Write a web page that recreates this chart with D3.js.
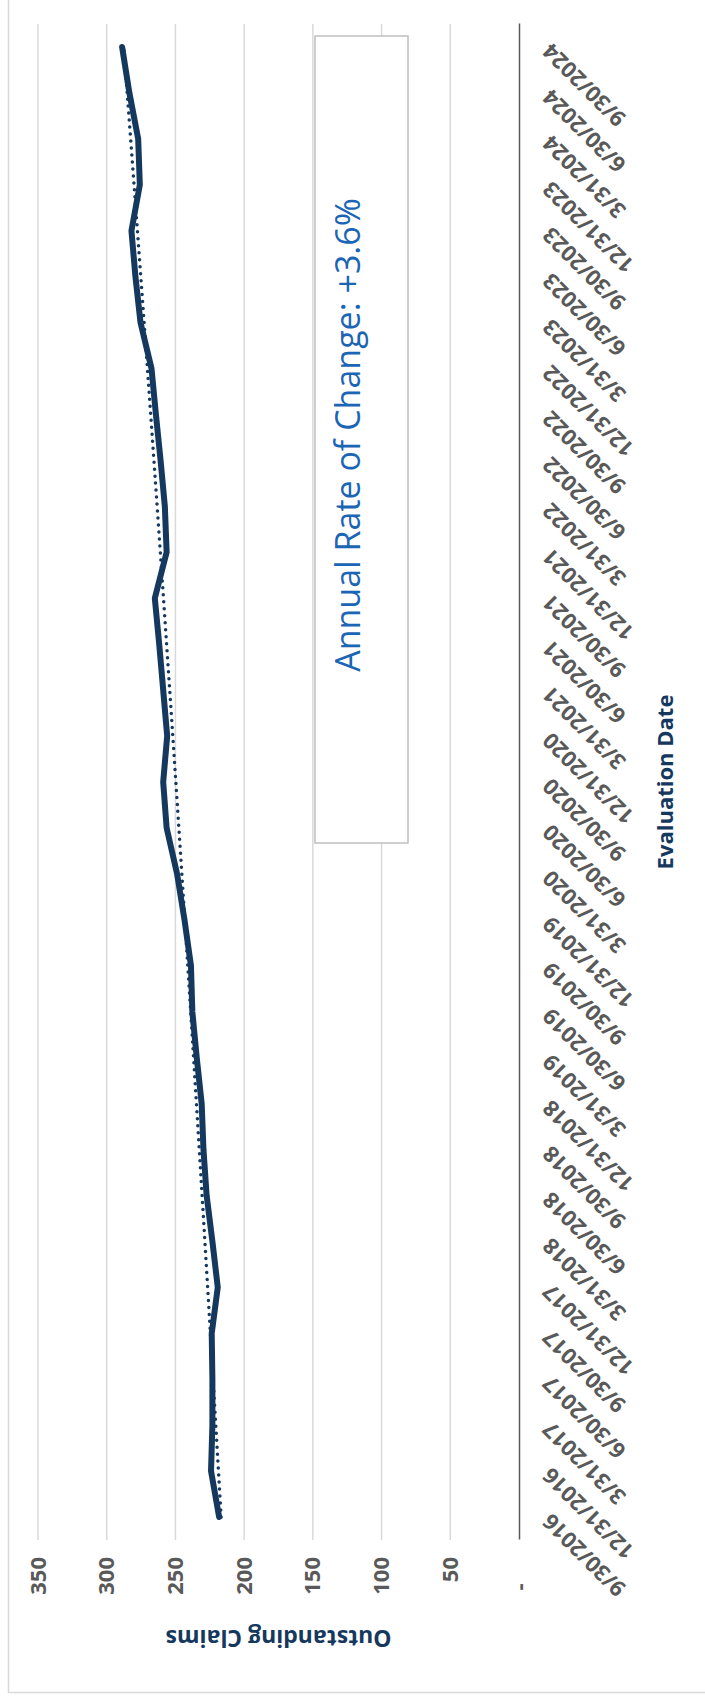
<!DOCTYPE html>
<html>
<head>
<meta charset="utf-8">
<script src="https://cdn.jsdelivr.net/npm/d3@7"></script>
<style>
 body { margin: 0; background: #fff; }
 svg text { font-family: 'Open Sans', 'Noto Sans', sans-serif; }
</style>
</head>
<body>
<script>
 // quarterly evaluation dates
 var dates = ['9/30/2016','12/31/2016','3/31/2017','6/30/2017','9/30/2017','12/31/2017',
	      '3/31/2018','6/30/2018','9/30/2018','12/31/2018','3/31/2019','6/30/2019',
	      '9/30/2019','12/31/2019','3/31/2020','6/30/2020','9/30/2020','12/31/2020',
	      '3/31/2021','6/30/2021','9/30/2021','12/31/2021','3/31/2022','6/30/2022',
	      '9/30/2022','12/31/2022','3/31/2023','6/30/2023','9/30/2023','12/31/2023',
	      '3/31/2024','6/30/2024','9/30/2024'];

 // outstanding claims
 var claims = [218.2, 224.1, 223.1, 223.1, 223.6, 219.2, 223.1, 227.3, 229.6, 230.9, 234.5,
	       237.7, 238.7, 243.4, 248.8, 256.4, 258.9, 256.0, 258.9, 261.8, 265.0, 256.4,
	       257.7, 260.8, 264.2, 267.4, 275.4, 279.1, 282.0, 275.9, 277.1, 283.5, 288.8];

 var value_ticks = [0, 50, 100, 150, 200, 250, 300, 350];
 var value_labels = ['-', '50', '100', '150', '200', '250', '300', '350'];
 var note_text = 'Annual Rate of Change: +3.6%';

 var navy = '#15385f';
 var gray = '#595959';
 var grid = '#d9d9d9';

 // the chart is laid out the usual way (dates across), then turned a quarter turn
 var W = 1698, H = 705;
 var svg = d3.select('body').append('svg')
	     .attr('width', H)
	     .attr('height', W);

 svg.append('rect')
    .attr('x', 8.5).attr('y', -3)
    .attr('width', 710).attr('height', 1695.5)
    .attr('fill', 'none')
    .attr('stroke', grid)
    .attr('stroke-width', 1.5);

 var chart = svg.append('g')
		.attr('transform', 'translate(0,' + W + ') rotate(-90)');

 // plot area (in the unrotated frame)
 var plot_l = 158, plot_r = 1674, plot_t = 38, plot_b = 519;

 var x = d3.scaleBand().domain(dates).range([plot_l, plot_r]);
 var y = d3.scaleLinear().domain([0, 350]).range([plot_b, plot_t]);
 var cx = function(d) { return x(d) + x.bandwidth() / 2; };

 // gridlines
 chart.append('g')
      .selectAll('line')
      .data(value_ticks.slice(1))
      .enter()
      .append('line')
      .attr('x1', plot_l).attr('x2', plot_r)
      .attr('y1', function(d) { return y(d); })
      .attr('y2', function(d) { return y(d); })
      .attr('stroke', grid)
      .attr('stroke-width', 1.5);

 // value axis labels
 var yaxis = chart.append('g')
		  .attr('transform', 'translate(' + plot_l + ',0)')
		  .call(d3.axisLeft(y)
			  .tickValues(value_ticks)
			  .tickSize(0)
			  .tickPadding(17)
			  .tickFormat(function(d, i) { return value_labels[i]; }));
 yaxis.select('.domain').remove();
 yaxis.selectAll('text')
      .attr('font-size', '22px')
      .attr('font-weight', 700)
      .attr('fill', gray)
      .attr('dx', function(d) { return d === 0 ? '-1.2em' : 0; });

 // date axis
 var xaxis = chart.append('g')
		  .attr('transform', 'translate(0,' + plot_b + ')')
		  .call(d3.axisBottom(x).tickSize(0));
 xaxis.select('.domain')
      .attr('stroke', gray)
      .attr('stroke-width', 1.5);
 xaxis.selectAll('text')
      .attr('x', 0).attr('y', 0)
      .attr('dy', '0.71em')
      .attr('transform', 'translate(-6,22) rotate(-45)')
      .attr('text-anchor', 'end')
      .attr('font-size', '22px')
      .attr('font-weight', 700)
      .attr('fill', gray);

 // axis titles
 chart.append('text')
      .attr('transform', 'translate(68,' + (plot_t + plot_b) / 2 + ') rotate(-90)')
      .attr('text-anchor', 'middle')
      .attr('font-size', '23px')
      .attr('font-weight', 700)
      .attr('fill', navy)
      .text('Outstanding Claims');

 chart.append('text')
      .attr('x', (plot_l + plot_r) / 2)
      .attr('y', 673)
      .attr('text-anchor', 'middle')
      .attr('font-size', '22px')
      .attr('font-weight', 700)
      .attr('fill', navy)
      .text('Evaluation Date');

 // exponential trendline, least squares on log of the claims (like excel)
 var n = claims.length, sx = 0, sy = 0, sxx = 0, sxy = 0;
 claims.forEach(function(v, i) {
     var ly = Math.log(v);
     sx += i; sy += ly; sxx += i * i; sxy += i * ly;
 });
 var b = (n * sxy - sx * sy) / (n * sxx - sx * sx);
 var a = (sy - b * sx) / n;
 var fitted = claims.map(function(v, i) { return Math.exp(a + b * i); });

 var line = d3.line()
	      .x(function(d, i) { return cx(dates[i]); })
	      .y(function(d) { return y(d); });

 chart.append('path')
      .datum(claims)
      .attr('d', line)
      .attr('fill', 'none')
      .attr('stroke', navy)
      .attr('stroke-width', 6)
      .attr('stroke-linejoin', 'round')
      .attr('stroke-linecap', 'round');

 chart.append('path')
      .datum(fitted)
      .attr('d', line.curve(d3.curveMonotoneX))
      .attr('fill', 'none')
      .attr('stroke', navy)
      .attr('stroke-width', 3.5)
      .attr('stroke-linecap', 'round')
      .attr('stroke-dasharray', '0 7');

 // text box with the rate
 chart.append('rect')
      .attr('x', 855).attr('y', 315)
      .attr('width', 807).attr('height', 93)
      .attr('fill', '#fff')
      .attr('stroke', '#bfbfbf')
      .attr('stroke-width', 1.5);

 chart.append('text')
      .attr('x', 1263)
      .attr('y', 360)
      .attr('text-anchor', 'middle')
      .attr('font-size', '34px')
      .attr('fill', '#1b65b5')
      .text(note_text);
</script>
</body>
</html>
